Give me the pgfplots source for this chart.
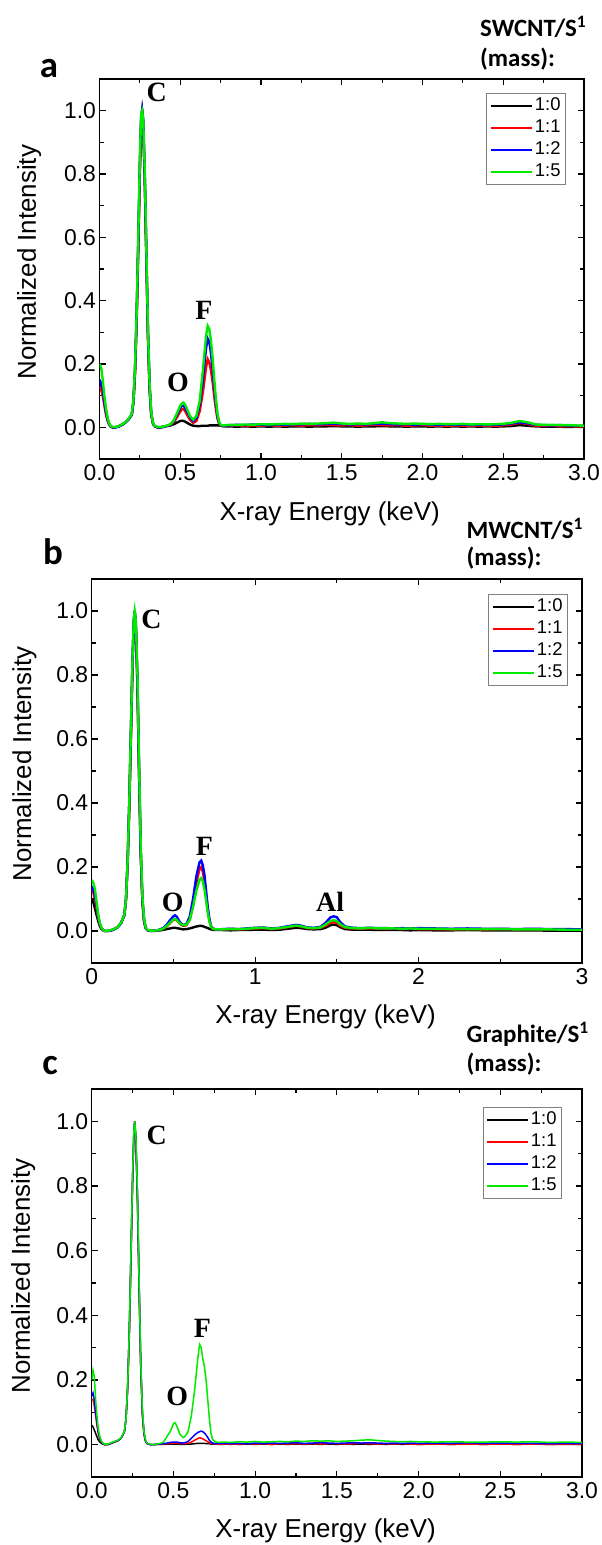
\documentclass[border=0pt]{standalone}
\usepackage{fontspec}
\setmainfont{Liberation Sans}
\newfontfamily\tnr{Liberation Serif}
\newfontfamily\carl{Carlito}
\usepackage{pgfplots}
\usepackage{pgfplotstable}
\pgfplotsset{compat=1.18}

\definecolor{cgreen}{RGB}{0,235,0}
\definecolor{cred}{RGB}{255,0,0}
\definecolor{cblue}{RGB}{0,0,255}

\pgfplotstableread{
x k r b g
0.000 0.15 0.13 0.15 0.20
0.010 0.13 0.12 0.14 0.19
0.020 0.11 0.10 0.12 0.15
0.030 0.08 0.07 0.08 0.10
0.040 0.05 0.04 0.05 0.06
0.050 0.025 0.02 0.025 0.03
0.060 0.010 0.008 0.010 0.012
0.070 0.003 0.002 0.003 0.004
0.080 0.000 0.000 0.000 0.001
0.100 0.000 0.001 0.000 0.001
0.120 0.003 0.004 0.003 0.004
0.140 0.008 0.009 0.008 0.009
0.160 0.015 0.016 0.015 0.016
0.180 0.025 0.026 0.025 0.027
0.200 0.040 0.040 0.040 0.042
0.210 0.080 0.080 0.080 0.085
0.220 0.18 0.17 0.18 0.19
0.230 0.35 0.33 0.35 0.36
0.240 0.58 0.56 0.58 0.60
0.250 0.82 0.80 0.83 0.85
0.258 0.97 0.96 0.98 0.99
0.264 1.00 1.00 1.00 1.00
0.270 0.97 0.96 0.97 0.98
0.280 0.80 0.78 0.80 0.82
0.290 0.55 0.53 0.55 0.57
0.300 0.30 0.28 0.30 0.31
0.310 0.13 0.12 0.13 0.14
0.320 0.045 0.04 0.045 0.05
0.330 0.015 0.013 0.015 0.016
0.340 0.004 0.004 0.004 0.005
0.360 0.000 0.000 0.000 0.001
0.380 0.000 0.001 0.000 0.001
0.400 0.002 0.002 0.002 0.003
0.420 0.004 0.005 0.005 0.006
0.440 0.006 0.008 0.009 0.010
0.460 0.010 0.016 0.020 0.022
0.480 0.015 0.032 0.040 0.045
0.500 0.020 0.050 0.062 0.068
0.510 0.021 0.057 0.068 0.075
0.520 0.020 0.058 0.068 0.078
0.530 0.018 0.052 0.062 0.072
0.540 0.015 0.042 0.052 0.060
0.560 0.009 0.024 0.032 0.036
0.580 0.005 0.014 0.020 0.024
0.600 0.004 0.020 0.030 0.036
0.620 0.004 0.050 0.070 0.082
0.640 0.005 0.110 0.150 0.180
0.660 0.005 0.190 0.250 0.290
0.670 0.005 0.215 0.280 0.320
0.680 0.006 0.205 0.270 0.310
0.690 0.006 0.180 0.235 0.275
0.700 0.006 0.145 0.185 0.220
0.710 0.006 0.100 0.130 0.155
0.720 0.006 0.060 0.080 0.095
0.730 0.006 0.028 0.038 0.045
0.740 0.006 0.012 0.015 0.018
0.750 0.005 0.006 0.007 0.008
0.760 0.004 0.004 0.005 0.006
0.780 0.003 0.004 0.005 0.006
0.80 0.003 0.005 0.006 0.008
0.85 0.002 0.007 0.008 0.007
0.90 0.003 0.004 0.007 0.009
0.95 0.002 0.006 0.009 0.008
1.00 0.003 0.005 0.008 0.010
1.05 0.002 0.007 0.007 0.009
1.10 0.003 0.005 0.009 0.010
1.15 0.002 0.006 0.008 0.011
1.20 0.003 0.007 0.010 0.010
1.25 0.003 0.005 0.009 0.012
1.30 0.002 0.007 0.011 0.011
1.35 0.003 0.006 0.009 0.012
1.40 0.003 0.008 0.011 0.013
1.45 0.004 0.007 0.012 0.015
1.50 0.003 0.006 0.010 0.012
1.55 0.003 0.007 0.009 0.011
1.60 0.002 0.005 0.010 0.012
1.65 0.003 0.006 0.009 0.011
1.70 0.003 0.008 0.011 0.013
1.75 0.004 0.007 0.012 0.016
1.80 0.003 0.006 0.010 0.013
1.85 0.003 0.007 0.009 0.012
1.90 0.002 0.005 0.010 0.011
1.95 0.003 0.006 0.008 0.012
2.00 0.003 0.007 0.010 0.011
2.05 0.002 0.005 0.009 0.010
2.10 0.003 0.006 0.008 0.011
2.15 0.002 0.004 0.009 0.010
2.20 0.003 0.006 0.008 0.010
2.25 0.002 0.005 0.009 0.011
2.30 0.003 0.004 0.007 0.009
2.35 0.002 0.006 0.008 0.010
2.40 0.003 0.005 0.007 0.009
2.45 0.002 0.004 0.008 0.010
2.50 0.003 0.006 0.009 0.011
2.55 0.004 0.009 0.012 0.014
2.60 0.007 0.014 0.016 0.020
2.65 0.005 0.011 0.013 0.016
2.70 0.003 0.005 0.008 0.009
2.75 0.002 0.004 0.007 0.008
2.80 0.002 0.005 0.006 0.008
2.85 0.002 0.003 0.007 0.007
2.90 0.001 0.004 0.006 0.007
2.95 0.002 0.003 0.005 0.006
3.00 0.001 0.003 0.005 0.005
}\dataA

\pgfplotstableread{
x k r b g
0.000 0.10 0.13 0.14 0.16
0.010 0.09 0.12 0.13 0.15
0.020 0.07 0.10 0.11 0.13
0.030 0.05 0.07 0.08 0.09
0.040 0.03 0.04 0.045 0.05
0.050 0.015 0.02 0.022 0.025
0.060 0.006 0.008 0.009 0.010
0.070 0.002 0.003 0.003 0.003
0.080 0.000 0.000 0.000 0.000
0.100 0.000 0.000 0.000 0.001
0.120 0.002 0.003 0.002 0.003
0.140 0.006 0.007 0.006 0.007
0.160 0.012 0.013 0.012 0.013
0.180 0.025 0.026 0.025 0.026
0.200 0.050 0.050 0.050 0.052
0.210 0.10 0.10 0.10 0.10
0.220 0.22 0.21 0.22 0.22
0.230 0.40 0.38 0.40 0.40
0.240 0.62 0.60 0.62 0.63
0.250 0.85 0.83 0.85 0.86
0.258 0.97 0.96 0.97 0.98
0.263 1.00 1.00 1.00 1.00
0.270 0.96 0.95 0.95 0.97
0.280 0.78 0.76 0.77 0.80
0.290 0.50 0.48 0.49 0.52
0.300 0.25 0.24 0.25 0.27
0.310 0.10 0.09 0.10 0.11
0.320 0.035 0.03 0.035 0.04
0.330 0.010 0.010 0.010 0.012
0.340 0.003 0.003 0.003 0.004
0.360 0.000 0.001 0.000 0.001
0.380 0.000 0.001 0.001 0.001
0.400 0.001 0.002 0.002 0.002
0.420 0.002 0.004 0.005 0.004
0.440 0.004 0.008 0.010 0.008
0.460 0.006 0.015 0.020 0.016
0.480 0.008 0.025 0.034 0.026
0.500 0.010 0.035 0.046 0.036
0.510 0.010 0.037 0.049 0.038
0.520 0.009 0.034 0.045 0.035
0.530 0.008 0.028 0.036 0.029
0.540 0.007 0.022 0.027 0.023
0.560 0.005 0.016 0.018 0.018
0.580 0.006 0.018 0.022 0.020
0.600 0.008 0.035 0.045 0.035
0.620 0.011 0.080 0.100 0.075
0.640 0.014 0.150 0.170 0.125
0.660 0.016 0.195 0.215 0.160
0.670 0.016 0.200 0.220 0.165
0.680 0.015 0.185 0.205 0.155
0.690 0.013 0.155 0.175 0.130
0.700 0.011 0.110 0.125 0.095
0.710 0.009 0.065 0.075 0.058
0.720 0.007 0.032 0.038 0.030
0.730 0.005 0.014 0.016 0.014
0.740 0.004 0.007 0.008 0.007
0.760 0.003 0.005 0.005 0.005
0.780 0.003 0.004 0.005 0.005
0.80 0.003 0.005 0.006 0.005
0.85 0.002 0.006 0.007 0.006
0.90 0.003 0.005 0.006 0.006
0.95 0.003 0.006 0.008 0.007
1.00 0.004 0.008 0.010 0.009
1.05 0.004 0.009 0.011 0.010
1.10 0.003 0.006 0.008 0.007
1.15 0.004 0.008 0.010 0.009
1.20 0.007 0.012 0.015 0.013
1.25 0.010 0.016 0.019 0.017
1.28 0.009 0.014 0.017 0.015
1.32 0.006 0.009 0.011 0.010
1.36 0.005 0.008 0.010 0.009
1.40 0.006 0.010 0.013 0.011
1.43 0.010 0.016 0.025 0.020
1.46 0.018 0.025 0.042 0.031
1.48 0.020 0.028 0.046 0.034
1.50 0.018 0.025 0.043 0.031
1.52 0.012 0.017 0.028 0.021
1.55 0.006 0.010 0.014 0.012
1.60 0.004 0.008 0.010 0.009
1.65 0.004 0.007 0.009 0.008
1.70 0.004 0.008 0.010 0.010
1.75 0.003 0.007 0.009 0.008
1.80 0.003 0.006 0.009 0.008
1.85 0.003 0.007 0.008 0.008
1.90 0.003 0.006 0.009 0.007
1.95 0.002 0.007 0.008 0.008
2.00 0.003 0.006 0.009 0.007
2.10 0.002 0.006 0.008 0.007
2.20 0.002 0.005 0.007 0.006
2.30 0.003 0.006 0.008 0.006
2.40 0.002 0.005 0.007 0.006
2.50 0.002 0.006 0.007 0.006
2.60 0.002 0.005 0.006 0.005
2.70 0.002 0.006 0.007 0.005
2.80 0.001 0.005 0.006 0.005
2.90 0.001 0.005 0.006 0.004
3.00 0.001 0.004 0.005 0.004
}\dataB

\pgfplotstableread{
x k r b g
0.000 0.06 0.14 0.15 0.20
0.008 0.055 0.14 0.16 0.23
0.016 0.045 0.12 0.14 0.21
0.024 0.035 0.09 0.10 0.14
0.032 0.025 0.06 0.07 0.09
0.040 0.015 0.035 0.04 0.05
0.050 0.008 0.018 0.02 0.025
0.060 0.004 0.008 0.009 0.010
0.070 0.001 0.003 0.003 0.004
0.080 0.000 0.000 0.000 0.001
0.100 0.000 0.001 0.001 0.002
0.120 0.004 0.005 0.005 0.006
0.140 0.008 0.009 0.009 0.010
0.160 0.012 0.013 0.013 0.014
0.180 0.020 0.020 0.020 0.021
0.200 0.040 0.040 0.040 0.042
0.210 0.08 0.08 0.08 0.08
0.220 0.18 0.17 0.18 0.18
0.230 0.35 0.33 0.35 0.35
0.240 0.58 0.56 0.58 0.59
0.250 0.82 0.80 0.82 0.83
0.258 0.96 0.95 0.97 0.97
0.263 1.00 1.00 1.00 1.00
0.270 0.95 0.94 0.95 0.96
0.280 0.77 0.75 0.76 0.78
0.290 0.50 0.48 0.49 0.51
0.300 0.25 0.24 0.25 0.26
0.310 0.10 0.09 0.10 0.11
0.320 0.035 0.03 0.035 0.04
0.330 0.010 0.010 0.010 0.012
0.340 0.003 0.003 0.003 0.004
0.360 0.000 0.000 0.000 0.001
0.380 0.000 0.000 0.000 0.000
0.400 0.001 0.001 0.001 0.002
0.420 0.001 0.001 0.002 0.004
0.440 0.001 0.002 0.003 0.008
0.460 0.002 0.003 0.005 0.025
0.480 0.002 0.004 0.007 0.040
0.500 0.002 0.005 0.008 0.065
0.510 0.002 0.005 0.008 0.068
0.520 0.002 0.004 0.008 0.058
0.530 0.002 0.004 0.007 0.045
0.540 0.001 0.003 0.006 0.032
0.560 0.001 0.003 0.005 0.022
0.570 0.001 0.003 0.006 0.025
0.590 0.002 0.004 0.010 0.040
0.610 0.002 0.008 0.020 0.090
0.630 0.003 0.014 0.030 0.170
0.650 0.004 0.019 0.038 0.270
0.660 0.004 0.021 0.040 0.310
0.670 0.004 0.020 0.042 0.300
0.680 0.004 0.018 0.040 0.265
0.690 0.004 0.015 0.036 0.240
0.700 0.003 0.012 0.030 0.200
0.710 0.003 0.009 0.022 0.140
0.720 0.003 0.006 0.014 0.080
0.730 0.002 0.004 0.008 0.035
0.740 0.002 0.003 0.005 0.015
0.760 0.002 0.002 0.003 0.008
0.780 0.001 0.002 0.003 0.007
0.80 0.001 0.002 0.004 0.008
0.85 0.002 0.001 0.003 0.007
0.90 0.001 0.002 0.004 0.009
0.95 0.002 0.003 0.003 0.008
1.00 0.001 0.002 0.005 0.010
1.05 0.002 0.003 0.004 0.008
1.10 0.001 0.001 0.005 0.009
1.15 0.002 0.003 0.004 0.010
1.20 0.001 0.002 0.005 0.009
1.25 0.002 0.003 0.006 0.011
1.30 0.001 0.002 0.004 0.010
1.35 0.002 0.003 0.005 0.012
1.40 0.001 0.002 0.006 0.011
1.45 0.002 0.003 0.005 0.012
1.50 0.001 0.003 0.004 0.010
1.55 0.002 0.002 0.005 0.011
1.60 0.001 0.003 0.006 0.012
1.65 0.002 0.004 0.005 0.014
1.70 0.001 0.003 0.006 0.015
1.75 0.002 0.002 0.005 0.013
1.80 0.001 0.003 0.004 0.011
1.85 0.002 0.002 0.005 0.010
1.90 0.001 0.003 0.004 0.009
1.95 0.002 0.002 0.005 0.010
2.00 0.001 0.001 0.004 0.009
2.10 0.002 0.002 0.005 0.008
2.20 0.001 0.001 0.004 0.009
2.30 0.002 0.002 0.006 0.008
2.40 0.001 0.001 0.004 0.008
2.50 0.002 0.002 0.005 0.009
2.60 0.001 0.001 0.004 0.008
2.70 0.002 0.002 0.004 0.009
2.80 0.001 0.001 0.003 0.007
2.90 0.001 0.002 0.004 0.008
3.00 0.001 0.001 0.003 0.007
}\dataC

\pgfplotsset{
  edsstyle/.style={
    scale only axis,
    xmin=0, xmax=3, ymin=-0.1, ymax=1.1,
    axis line style={line width=1.5bp},
    tick style={line width=1.2bp, black},
    major tick length=6bp, minor tick length=4bp,
    tick align=inside, tick pos=both,
    ytick={0,0.2,0.4,0.6,0.8,1.0},
    minor ytick={0.1,0.3,0.5,0.7,0.9},
    yticklabel style={/pgf/number format/fixed,/pgf/number format/fixed zerofill,/pgf/number format/precision=1},
    /pgf/number format/assume math mode=true,
    ticklabel style={font=\fontsize{23}{23}\selectfont},
    xticklabel style={yshift=-2bp},
    label style={font=\fontsize{26}{26}\selectfont},
    ylabel={Normalized Intensity},
    xlabel={X-ray Energy (keV)},
    legend cell align=left,
    legend style={draw=gray, line width=1bp, font=\fontsize{18.5}{22}\selectfont,
      anchor=north east, inner xsep=3bp, inner ysep=2bp, row sep=1bp,
      nodes={inner sep=2bp, text height=13bp, text depth=4bp}},
    legend image code/.code={\draw[#1] (0bp,0bp) -- (41bp,0bp);},
  },
}
\tikzset{pk/.style={font=\fontsize{28}{28}\selectfont\tnr\bfseries, inner sep=0pt, anchor=center}}

\begin{document}
\begin{tikzpicture}
\useasboundingbox (0bp,0bp) rectangle (602bp,1545bp);

% ---------- panel a ----------
\begin{axis}[edsstyle, at={(99.5bp,1086bp)}, anchor=south west,
  width=484.5bp, height=380bp,
  xtick={0,0.5,1,1.5,2,2.5,3},
  minor xtick={0.25,0.75,1.25,1.75,2.25,2.75},
  xticklabel style={/pgf/number format/fixed,/pgf/number format/fixed zerofill,/pgf/number format/precision=1},
  xlabel style={at={(axis description cs:0.475,-0.145)}, anchor=center},
  ylabel style={at={(axis description cs:-0.145,0.518)}, anchor=center},
  legend style={at={(axis description cs:1,1)}, xshift=-18bp, yshift=-14bp},
]
\addplot[black, line width=2.4bp] table[x=x,y=k]{\dataA};
\addplot[cred, line width=2.4bp] table[x=x,y=r]{\dataA};
\addplot[cblue, line width=2.4bp] table[x=x,y=b]{\dataA};
\addplot[cgreen, line width=2.4bp] table[x=x,y=g]{\dataA};
\legend{1:0,1:1,1:2,1:5}
\node[pk] at (axis cs:0.354,1.057) {C};
\node[pk] at (axis cs:0.486,0.142) {O};
\node[pk] at (axis cs:0.647,0.368) {F};
\end{axis}

% ---------- panel b ----------
\begin{axis}[edsstyle, at={(91.7bp,582bp)}, anchor=south west,
  width=490.3bp, height=384bp,
  xtick={0,1,2,3}, xticklabels={0,1,2,3},
  minor xtick={0.5,1.5,2.5},
  xlabel style={at={(axis description cs:0.477,-0.14)}, anchor=center},
  ylabel style={at={(axis description cs:-0.137,0.518)}, anchor=center},
  legend style={at={(axis description cs:1,1)}, xshift=-14bp, yshift=-15bp},
]
\addplot[black, line width=2.4bp] table[x=x,y=k]{\dataB};
\addplot[cred, line width=2.4bp] table[x=x,y=r]{\dataB};
\addplot[cblue, line width=2.4bp] table[x=x,y=b]{\dataB};
\addplot[cgreen, line width=2.4bp] table[x=x,y=g]{\dataB};
\legend{1:0,1:1,1:2,1:5}
\node[pk] at (axis cs:0.365,0.975) {C};
\node[pk] at (axis cs:0.496,0.09) {O};
\node[pk] at (axis cs:0.69,0.263) {F};
\node[pk] at (axis cs:1.459,0.09) {Al};
\end{axis}

% ---------- panel c ----------
\begin{axis}[edsstyle, at={(91.7bp,68bp)}, anchor=south west,
  width=490.3bp, height=388bp,
  xtick={0,0.5,1,1.5,2,2.5,3},
  minor xtick={0.25,0.75,1.25,1.75,2.25,2.75},
  xticklabel style={/pgf/number format/fixed,/pgf/number format/fixed zerofill,/pgf/number format/precision=1},
  xlabel style={at={(axis description cs:0.477,-0.139)}, anchor=center},
  ylabel style={at={(axis description cs:-0.14,0.518)}, anchor=center},
  legend style={at={(axis description cs:1,1)}, xshift=-20bp, yshift=-18bp},
]
\addplot[black, line width=1.5bp] table[x=x,y=k]{\dataC};
\addplot[cred, line width=1.5bp] table[x=x,y=r]{\dataC};
\addplot[cblue, line width=1.5bp] table[x=x,y=b]{\dataC};
\addplot[cgreen, line width=1.5bp] table[x=x,y=g]{\dataC};
\legend{1:0,1:1,1:2,1:5}
\node[pk] at (axis cs:0.398,0.957) {C};
\node[pk] at (axis cs:0.524,0.148) {O};
\node[pk] at (axis cs:0.678,0.359) {F};
\end{axis}

% ---------- outside labels ----------
\node[font=\fontsize{37}{37}\selectfont\carl\bfseries, inner sep=0pt, anchor=center] at (49bp,1476bp) {a};
\node[font=\fontsize{37}{37}\selectfont\carl\bfseries, inner sep=0pt, anchor=center] at (53bp,993bp) {b};
\node[font=\fontsize{37}{37}\selectfont\carl\bfseries, inner sep=0pt, anchor=center] at (50bp,479bp) {c};

\node[font=\fontsize{25}{25}\selectfont\carl\bfseries, inner sep=0pt, anchor=base west] at (480bp,1508bp) {SWCNT/S\textsuperscript{1}};
\node[font=\fontsize{25}{25}\selectfont\carl\bfseries, inner sep=0pt, anchor=base west] at (480bp,1478bp) {(mass):};
\node[font=\fontsize{25}{25}\selectfont\carl\bfseries, inner sep=0pt, anchor=base west] at (466.5bp,1006bp) {MWCNT/S\textsuperscript{1}};
\node[font=\fontsize{25}{25}\selectfont\carl\bfseries, inner sep=0pt, anchor=base west] at (466.5bp,979bp) {(mass):};
\node[font=\fontsize{25}{25}\selectfont\carl\bfseries, inner sep=0pt, anchor=base west] at (466.5bp,502bp) {Graphite/S\textsuperscript{1}};
\node[font=\fontsize{25}{25}\selectfont\carl\bfseries, inner sep=0pt, anchor=base west] at (466.5bp,473bp) {(mass):};
\end{tikzpicture}
\end{document}
